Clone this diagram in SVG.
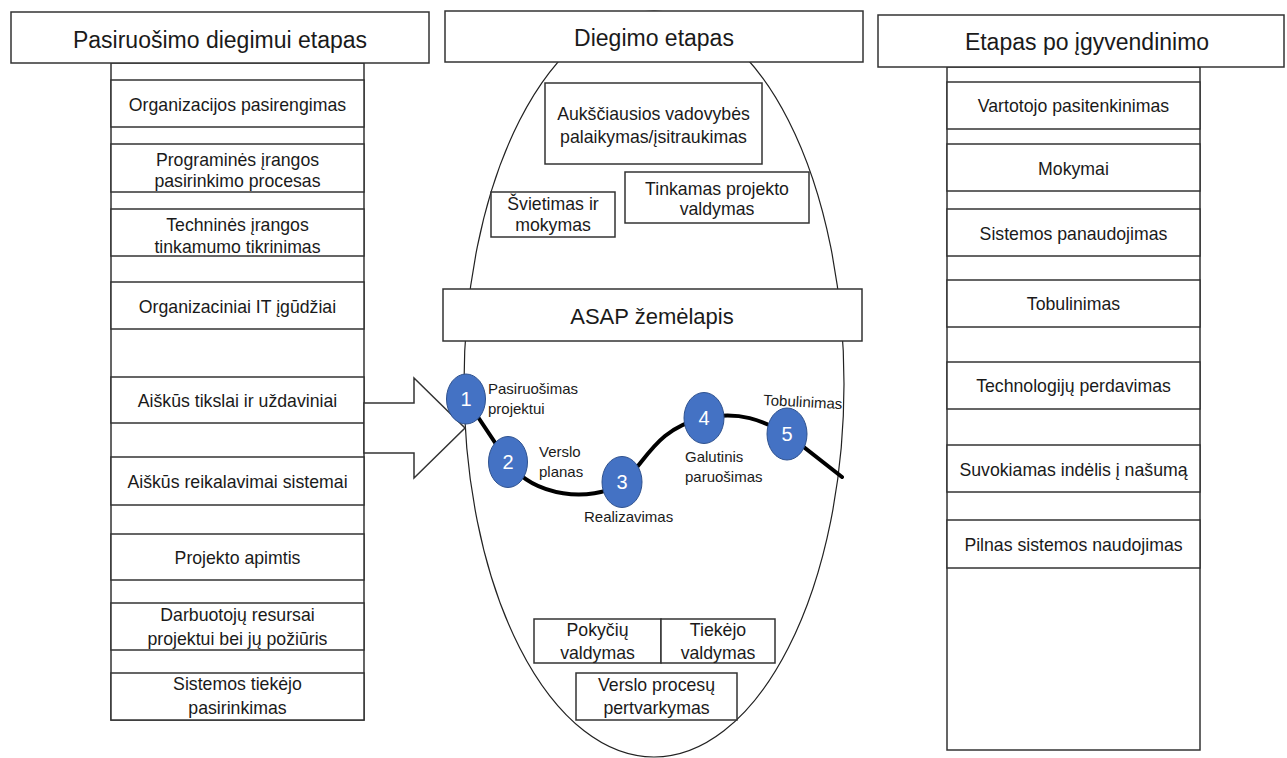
<svg xmlns="http://www.w3.org/2000/svg" width="1287" height="758" viewBox="0 0 1287 758">
  <style>
    .box { fill: #ffffff; stroke: #333333; stroke-width: 1.5; }
    text { font-family: "Liberation Sans", Arial, sans-serif; fill: #1a1a1a; }
    .hd { font-size: 23px; text-anchor: middle; }
    .t { font-size: 17.7px; text-anchor: middle; }
    .s { font-size: 15px; }
    .num { font-size: 20px; fill: #ffffff; text-anchor: middle; }
    .step { fill: #4472c4; stroke: #2f528f; stroke-width: 1; }
    .path { fill: none; stroke: #000000; stroke-width: 4; stroke-linecap: round; }
  </style>

  <!-- central implementation-phase oval -->
  <ellipse id="phase-oval" cx="654" cy="384" rx="190" ry="373" fill="#ffffff" stroke="#222222" stroke-width="1.2"/>

  <!-- left column: preparation phase -->
  <g id="col-prep">
    <rect class="box" x="111" y="63" width="253" height="657"/>
    <rect class="box" x="11" y="12" width="418" height="51"/>
    <text class="hd" x="220" y="48">Pasiruošimo diegimui etapas</text>
  </g>
  <g id="prep-1"><rect class="box" x="111" y="80" width="253" height="47"/><text class="t" x="237.5" y="111">Organizacijos pasirengimas</text></g>
  <g id="prep-2"><rect class="box" x="111" y="144" width="253" height="48"/><text class="t" x="237.5" y="166">Programinės įrangos</text><text class="t" x="237.5" y="187">pasirinkimo procesas</text></g>
  <g id="prep-3"><rect class="box" x="111" y="209" width="253" height="47"/><text class="t" x="237.5" y="231">Techninės įrangos</text><text class="t" x="237.5" y="253">tinkamumo tikrinimas</text></g>
  <g id="prep-4"><rect class="box" x="111" y="282" width="253" height="47"/><text class="t" x="237.5" y="313">Organizaciniai IT įgūdžiai</text></g>
  <g id="prep-5"><rect class="box" x="111" y="377" width="253" height="46"/><text class="t" x="237.5" y="407">Aiškūs tikslai ir uždaviniai</text></g>
  <g id="prep-6"><rect class="box" x="111" y="457" width="253" height="48"/><text class="t" x="237.5" y="488">Aiškūs reikalavimai sistemai</text></g>
  <g id="prep-7"><rect class="box" x="111" y="534" width="253" height="46"/><text class="t" x="237.5" y="564">Projekto apimtis</text></g>
  <g id="prep-8"><rect class="box" x="111" y="603" width="253" height="47"/><text class="t" x="237.5" y="621">Darbuotojų resursai</text><text class="t" x="237.5" y="645">projektui bei jų požiūris</text></g>
  <g id="prep-9"><rect class="box" x="111" y="673" width="253" height="47"/><text class="t" x="237.5" y="690">Sistemos tiekėjo</text><text class="t" x="237.5" y="714">pasirinkimas</text></g>

  <!-- connectors: block arrow into the oval and the ASAP roadmap line -->
  <g id="connectors">
    <polygon points="364,403 414,403 414,378 465,428 414,478 414,453 364,453" fill="#ffffff" stroke="#333333" stroke-width="1.5" stroke-linejoin="miter"/>
    <path class="path" d="M466,399 L508,462 C535,498 590,502 622,484 C646,462 656,428 704,418 C740,411 762,420 787,434 L842,477"/>
  </g>

  <!-- middle: implementation phase -->
  <g id="hdr-impl">
    <rect class="box" x="445" y="11" width="418" height="51"/>
    <text class="hd" x="654" y="46">Diegimo etapas</text>
  </g>
  <g id="impl-mgmt"><rect class="box" x="545" y="83" width="217" height="81"/><text class="t" x="653.5" y="120">Aukščiausios vadovybės</text><text class="t" x="653.5" y="143">palaikymas/įsitraukimas</text></g>
  <g id="impl-edu"><rect class="box" x="491" y="192" width="124" height="45"/><text class="t" x="553" y="210">Švietimas ir</text><text class="t" x="553" y="231">mokymas</text></g>
  <g id="impl-pm"><rect class="box" x="625" y="172" width="184" height="51"/><text class="t" x="717" y="195">Tinkamas projekto</text><text class="t" x="717" y="215">valdymas</text></g>
  <g id="impl-asap"><rect class="box" x="443" y="289" width="419" height="52"/><text class="hd" x="652" y="324" style="font-size:22px">ASAP žemėlapis</text></g>

  <!-- ASAP roadmap steps -->
  <g id="step-1"><ellipse class="step" cx="466" cy="399" rx="19.5" ry="25"/><text class="num" x="466" y="406">1</text><text class="s" x="488" y="394">Pasiruošimas</text><text class="s" x="488" y="414">projektui</text></g>
  <g id="step-2"><ellipse class="step" cx="508" cy="462" rx="19.5" ry="25.5"/><text class="num" x="508" y="469">2</text><text class="s" x="539" y="457">Verslo</text><text class="s" x="539" y="477">planas</text></g>
  <g id="step-3"><ellipse class="step" cx="622" cy="482" rx="20" ry="25.5"/><text class="num" x="622" y="489">3</text><text class="s" x="584" y="522">Realizavimas</text></g>
  <g id="step-4"><ellipse class="step" cx="704" cy="418" rx="20" ry="25.5"/><text class="num" x="704" y="425">4</text><text class="s" x="685" y="462">Galutinis</text><text class="s" x="685" y="482">paruošimas</text></g>
  <g id="step-5"><ellipse class="step" cx="787" cy="434" rx="20" ry="26"/><text class="num" x="787" y="441">5</text><text class="s" x="763" y="405" transform="rotate(3 763 405)">Tobulinimas</text></g>

  <g id="impl-change"><rect class="box" x="534" y="619" width="127" height="44"/><text class="t" x="597.5" y="636">Pokyčių</text><text class="t" x="597.5" y="659">valdymas</text></g>
  <g id="impl-vendor"><rect class="box" x="661" y="619" width="114" height="44"/><text class="t" x="718" y="636">Tiekėjo</text><text class="t" x="718" y="659">valdymas</text></g>
  <g id="impl-bpr"><rect class="box" x="576" y="673" width="161" height="47"/><text class="t" x="656.5" y="691">Verslo procesų</text><text class="t" x="656.5" y="714">pertvarkymas</text></g>

  <!-- right column: post-implementation phase -->
  <g id="col-post">
    <rect class="box" x="947" y="67" width="253" height="683"/>
    <rect class="box" x="878" y="15" width="406" height="52"/>
    <text class="hd" x="1087" y="50">Etapas po įgyvendinimo</text>
  </g>
  <g id="post-1"><rect class="box" x="947" y="82" width="253" height="47"/><text class="t" x="1073.5" y="112">Vartotojo pasitenkinimas</text></g>
  <g id="post-2"><rect class="box" x="947" y="144" width="253" height="47"/><text class="t" x="1073.5" y="175">Mokymai</text></g>
  <g id="post-3"><rect class="box" x="947" y="209" width="253" height="47"/><text class="t" x="1073.5" y="240">Sistemos panaudojimas</text></g>
  <g id="post-4"><rect class="box" x="947" y="280" width="253" height="47"/><text class="t" x="1073.5" y="310">Tobulinimas</text></g>
  <g id="post-5"><rect class="box" x="947" y="362" width="253" height="47"/><text class="t" x="1073.5" y="392">Technologijų perdavimas</text></g>
  <g id="post-6"><rect class="box" x="947" y="445" width="253" height="47"/><text class="t" x="1073.5" y="476">Suvokiamas indėlis į našumą</text></g>
  <g id="post-7"><rect class="box" x="947" y="520" width="253" height="48"/><text class="t" x="1073.5" y="551">Pilnas sistemos naudojimas</text></g>
</svg>
